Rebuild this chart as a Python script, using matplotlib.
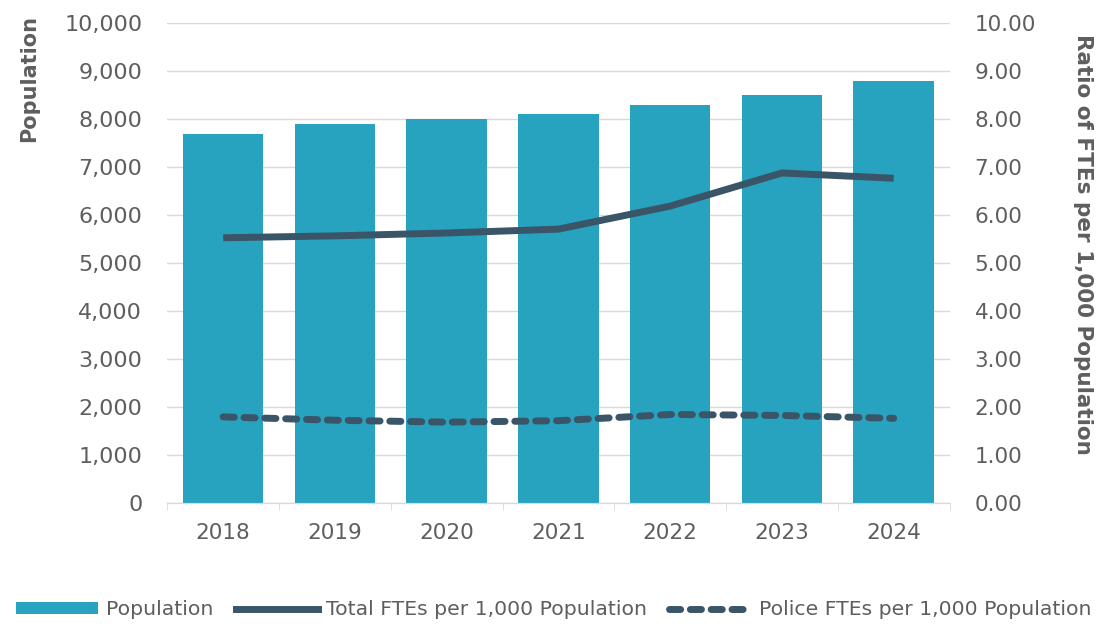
import matplotlib
matplotlib.use("Agg")
import matplotlib.pyplot as plt
from matplotlib.ticker import FuncFormatter, MultipleLocator
from matplotlib.patches import Patch
from matplotlib.lines import Line2D

years = ["2018", "2019", "2020", "2021", "2022", "2023", "2024"]
population = [7700, 7900, 8000, 8100, 8300, 8500, 8800]
total_ftes_per_1000 = [5.53, 5.57, 5.63, 5.71, 6.19, 6.88, 6.77]
police_ftes_per_1000 = [1.80, 1.73, 1.69, 1.72, 1.85, 1.83, 1.77]

bar_color = "#27A2BF"
line_color = "#3A5567"
text_color = "#5E5E5E"
grid_color = "#D9D9D9"

plt.rcParams["font.family"] = ["DejaVu Sans"]

fig = plt.figure(figsize=(11.08, 6.26), dpi=100)
ax = fig.add_axes([0.151, 0.196, 0.706, 0.767])
ax2 = ax.twinx()

x = list(range(len(years)))
ax.bar(x, population, width=0.72, color=bar_color, zorder=2)
ax.set_xlim(-0.5, len(years) - 0.5)
ax.set_ylim(0, 10000)
ax.yaxis.set_major_locator(MultipleLocator(1000))
ax.yaxis.set_major_formatter(FuncFormatter(lambda v, p: f"{int(v):,}"))
ax.grid(axis="y", color=grid_color, linewidth=1, zorder=0)
ax.set_axisbelow(True)

ax2.plot(x, total_ftes_per_1000, color=line_color, linewidth=5,
         solid_capstyle="butt", zorder=3)
ax2.plot(x, police_ftes_per_1000, color=line_color, linewidth=5,
         linestyle=(0, (1.6, 1.4)), dash_capstyle="round", zorder=3)
ax2.set_ylim(0, 10)
ax2.yaxis.set_major_locator(MultipleLocator(1))
ax2.yaxis.set_major_formatter(FuncFormatter(lambda v, p: f"{v:.2f}"))

ax.set_xticks(x)
ax.set_xticklabels(years)
ax.set_xticks([i - 0.5 for i in range(len(years) + 1)], minor=True)
ax.tick_params(axis="x", which="major", length=0, pad=14,
               labelsize=15.5, labelcolor=text_color)
ax.tick_params(axis="x", which="minor", length=5, color=grid_color)
ax.tick_params(axis="y", length=0, pad=18, labelsize=16, labelcolor=text_color)
ax2.tick_params(axis="y", length=0, pad=18, labelsize=15.5, labelcolor=text_color)

for a in (ax, ax2):
    for side in ("top", "left", "right"):
        a.spines[side].set_visible(False)
    a.spines["bottom"].set_color(grid_color)

fig.text(0.026, 0.874, "Population", rotation=90, ha="center", va="center",
         fontsize=15, fontweight="bold", color=text_color)
fig.text(0.977, 0.609, "Ratio of FTEs per 1,000 Population", rotation=-90,
         ha="center", va="center", fontsize=15.5, fontweight="bold",
         color=text_color)

handles = [
    Patch(facecolor=bar_color, edgecolor="none"),
    Line2D([], [], color=line_color, linewidth=5),
    Line2D([], [], color=line_color, linewidth=5,
           linestyle=(0, (1.6, 1.4)), dash_capstyle="round"),
]
labels = ["Population", "Total FTEs per 1,000 Population",
          "Police FTEs per 1,000 Population"]
leg = fig.legend(handles, labels, loc="center", bbox_to_anchor=(0.5, 0.026),
                 ncol=3, frameon=False, fontsize=14.7, handlelength=4.0,
                 handleheight=0.5, columnspacing=1.1, handletextpad=0.4,
                 borderaxespad=0, borderpad=0)
for t in leg.get_texts():
    t.set_color(text_color)

fig.savefig("out.png", dpi=100)
